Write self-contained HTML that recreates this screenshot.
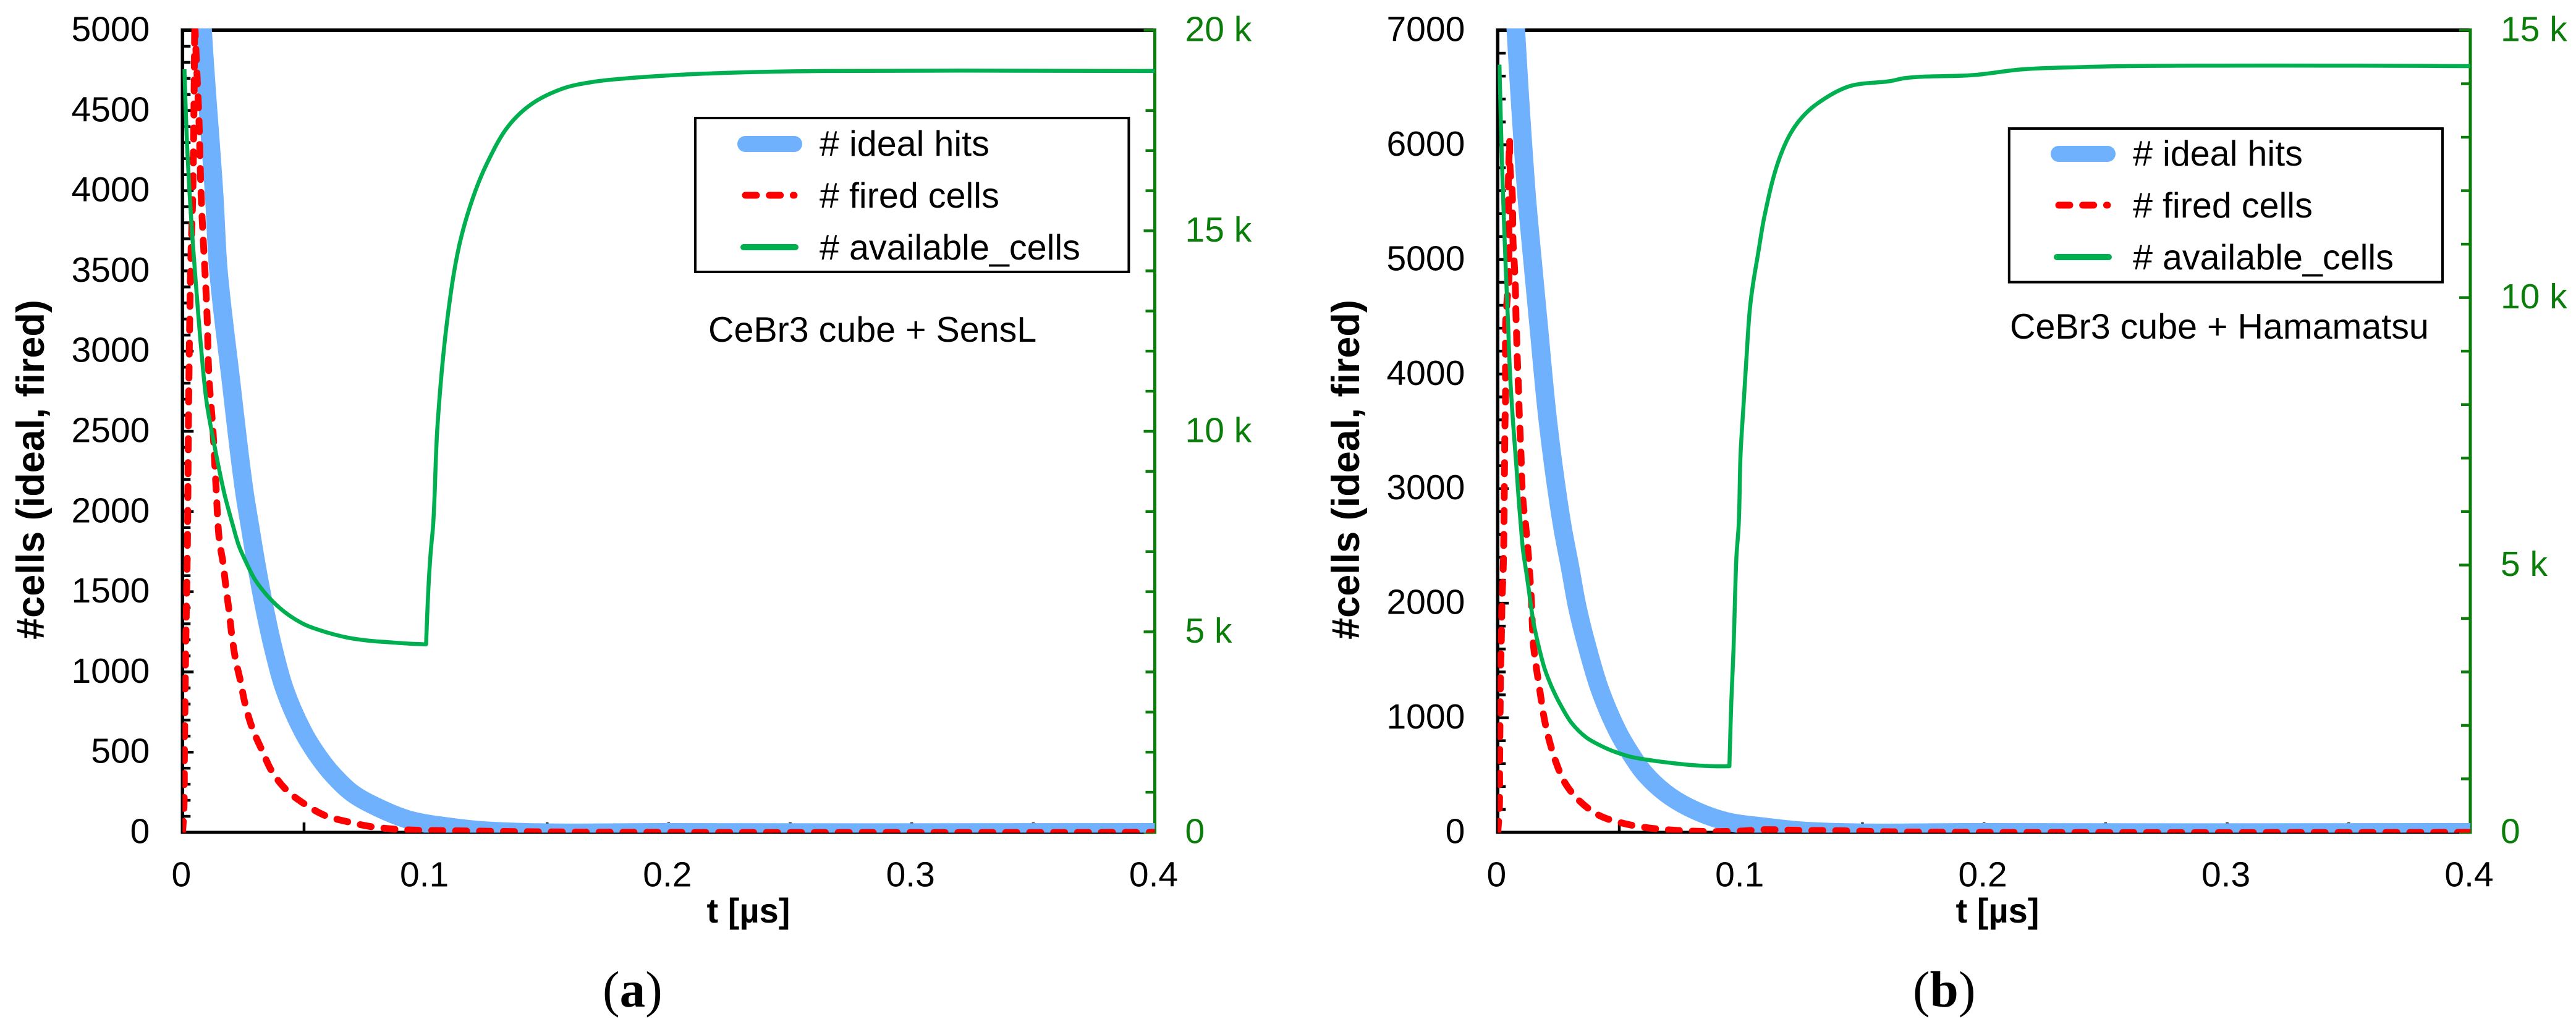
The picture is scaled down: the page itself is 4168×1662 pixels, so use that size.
<!DOCTYPE html>
<html lang="en">
<head>
<meta charset="utf-8">
<title>CeBr3 cube cell occupancy charts</title>
<style>
html,body{margin:0;padding:0;background:#fff;width:4168px;height:1662px;overflow:hidden}
svg{display:block}
text{font-family:"Liberation Sans",sans-serif;fill:#000}
.tick{font-size:57px}
.green{fill:#0a7d0a}
.legend-text{font-size:57.5px}
.note{font-size:57.4px}
.axis-title{font-size:56px;font-weight:bold}
.y-title{font-size:63px;font-weight:bold}
.caption{font-family:"Liberation Serif",serif;font-size:83px}
</style>
</head>
<body>
<svg id="figure" xmlns="http://www.w3.org/2000/svg" width="4168" height="1662" viewBox="0 0 4168 1662">
  <rect x="0" y="0" width="4168" height="1662" fill="#fff"/>
  <defs>
    <clipPath id="clip-a"><rect x="295.3" y="46" width="1573.2" height="1301.5"/></clipPath>
    <clipPath id="clip-b"><rect x="2423.3" y="46" width="1573.7" height="1301.5"/></clipPath>
  </defs>
  <g id="panel-a"></g>
  <g id="panel-b"></g>

  <text class="y-title" text-anchor="middle" transform="translate(71 760) rotate(-90)">#cells (ideal, fired)</text>
  <text class="axis-title" text-anchor="middle" x="1211" y="1493">t [µs]</text>
  <g>
    <rect x="1125" y="191" width="701.4" height="249" fill="#fff" stroke="#000" stroke-width="4"/>
    <line x1="1206" y1="233" x2="1285" y2="233" stroke="#6fb1fc" stroke-width="26" stroke-linecap="round"/>
    <line x1="1206" y1="316" x2="1285" y2="316" stroke="#ff0000" stroke-width="11" stroke-linecap="round" stroke-dasharray="18 20.7"/>
    <line x1="1203" y1="400" x2="1287" y2="400" stroke="#00b050" stroke-width="10" stroke-linecap="round"/>
    <text class="legend-text" x="1326" y="252">#&#160;ideal hits</text>
    <text class="legend-text" x="1326" y="336">#&#160;fired cells</text>
    <text class="legend-text" x="1326" y="420">#&#160;available_cells</text>
  </g>
  <text class="note" x="1146" y="553">CeBr3 cube + SensL</text>
  <text class="caption" x="975" y="1629">(<tspan font-weight="bold">a</tspan>)</text>

  <text class="y-title" text-anchor="middle" transform="translate(2199 760) rotate(-90)">#cells (ideal, fired)</text>
  <text class="axis-title" text-anchor="middle" x="3232" y="1493">t [µs]</text>
  <g>
    <rect x="3250.8" y="208" width="701.2" height="248.6" fill="#fff" stroke="#000" stroke-width="4"/>
    <line x1="3331" y1="249" x2="3410" y2="249" stroke="#6fb1fc" stroke-width="26" stroke-linecap="round"/>
    <line x1="3331" y1="332" x2="3410" y2="332" stroke="#ff0000" stroke-width="11" stroke-linecap="round" stroke-dasharray="18 20.7"/>
    <line x1="3328" y1="416" x2="3412" y2="416" stroke="#00b050" stroke-width="10" stroke-linecap="round"/>
    <text class="legend-text" x="3451" y="268">#&#160;ideal hits</text>
    <text class="legend-text" x="3451" y="352">#&#160;fired cells</text>
    <text class="legend-text" x="3451" y="436">#&#160;available_cells</text>
  </g>
  <text class="note" x="3252" y="548">CeBr3 cube + Hamamatsu</text>
  <text class="caption" x="3095" y="1629">(<tspan font-weight="bold">b</tspan>)</text>
</svg>

<script>
// Shared x axis (t in microseconds)
var timeTicks = [0, 0.1, 0.2, 0.3, 0.4];
var timeTickLabels = ['0', '0.1', '0.2', '0.3', '0.4'];

// Panel (a): CeBr3 cube + SensL
var cellTicksA = [0, 500, 1000, 1500, 2000, 2500, 3000, 3500, 4000, 4500, 5000];
var availableTicksA = [0, 5000, 10000, 15000, 20000];
var availableTickLabelsA = ['0', '5 k', '10 k', '15 k', '20 k'];
var idealTimeA = [0.0075, 0.0083, 0.0131, 0.0147, 0.0198, 0.0256, 0.0277, 0.0305, 0.0337, 0.0374, 0.0421, 0.0495, 0.0546, 0.0610, 0.0698, 0.0804, 0.0932, 0.1102, 0.1271, 0.2000, 0.4000];
var idealCellsA = [5300, 5000, 3956, 3517, 2831, 2107, 1914, 1658, 1401, 1144, 887, 630, 502, 374, 245, 155, 78, 33, 8, 0, 0];
var firedTimeA = [0, 0.0005, 0.0008, 0.0012, 0.0020, 0.0025, 0.0030, 0.0035, 0.0042, 0.0050, 0.0058, 0.0067, 0.0077, 0.0101, 0.0109, 0.0124, 0.0138, 0.01518, 0.0167, 0.0179, 0.0192, 0.0203, 0.0218, 0.0239, 0.0258, 0.0287, 0.0326, 0.0368, 0.0427, 0.0504, 0.0588, 0.0682, 0.0775, 0.0872, 0.0974, 0.1100, 0.1500, 0.2000, 0.4000];
var firedCellsA = [0, 115, 500, 1016, 1787, 2635, 3224, 3617, 3956, 5050, 4780, 4468, 3956, 3224, 2831, 2535, 2150, 1818, 1677, 1523, 1375, 1228, 1080, 939, 797, 650, 515, 380, 265, 175, 104, 65, 36, 20, 13, 10, 3, 0, 0];
var availableTimeA = [0.0008, 0.0020, 0.0036, 0.0055, 0.0076, 0.0100, 0.0133, 0.0173, 0.0207, 0.0232, 0.0262, 0.0296, 0.0347, 0.0398, 0.0448, 0.0508, 0.0593, 0.0677, 0.0762, 0.0847, 0.0932, 0.1002, 0.1012, 0.1021, 0.1031, 0.1049, 0.1090, 0.1138, 0.1194, 0.1252, 0.1341, 0.1438, 0.1568, 0.1683, 0.1792, 0.2059, 0.2326, 0.2649, 0.4000];
var availableCellsA = [19030, 16980, 15255, 13684, 12112, 10695, 9593, 8429, 7659, 7145, 6734, 6323, 5913, 5605, 5373, 5167, 4988, 4859, 4782, 4741, 4705, 4689, 6118, 6991, 7659, 10140, 12820, 14624, 15810, 16674, 17614, 18170, 18554, 18708, 18785, 18893, 18954, 18985, 18985];

// Panel (b): CeBr3 cube + Hamamatsu
var cellTicksB = [0, 1000, 2000, 3000, 4000, 5000, 6000, 7000];
var availableTicksB = [0, 5000, 10000, 15000];
var availableTickLabelsB = ['0', '5 k', '10 k', '15 k'];
var idealTimeB = [0.0068, 0.00747, 0.01195, 0.0126, 0.0166, 0.0207, 0.0265, 0.0297, 0.0328, 0.0370, 0.0421, 0.0493, 0.0542, 0.0601, 0.0690, 0.0787, 0.0931, 0.1101, 0.1270, 0.2000, 0.4000];
var idealCellsB = [7300, 7000, 5539, 5377, 4478, 3579, 2680, 2321, 1961, 1602, 1242, 883, 703, 523, 343, 217, 101, 47, 11, 0, 0];
var firedTimeB = [0, 0.0006, 0.0008, 0.0010, 0.0012, 0.0015, 0.0018, 0.0023, 0.0025, 0.0029, 0.0030, 0.0032, 0.0032, 0.0032, 0.0032, 0.0037, 0.0046, 0.0046, 0.0046, 0.0044, 0.0049, 0.0052, 0.0058, 0.0063, 0.0069, 0.0073, 0.0075, 0.0078, 0.0081, 0.0085, 0.0088, 0.0092, 0.0096, 0.0099, 0.0105, 0.0114, 0.0125, 0.0132, 0.0139, 0.0142, 0.0147, 0.0160, 0.0175, 0.0190, 0.0211, 0.0241, 0.0279, 0.0342, 0.0419, 0.0508, 0.0605, 0.0698, 0.0796, 0.0897, 0.0999, 0.1093, 0.1194, 0.1270, 0.1347, 0.1620, 0.2000, 0.4000];
var firedCellsB = [0, 162, 613, 1062, 1422, 1692, 2049, 2321, 2555, 3398, 3579, 3775, 3991, 4190, 4395, 4604, 4820, 5015, 5197, 5684, 6040, 5750, 5646, 5152, 4936, 4730, 4521, 4316, 4110, 3903, 3696, 3489, 3283, 3076, 2869, 2697, 2447, 2249, 1997, 1835, 1638, 1422, 1215, 1008, 811, 604, 424, 263, 146, 83, 43, 23, 11, 7, 11, 23, 20, 16, 16, 5, 0, 0];
var availableTimeB = [0.0007, 0.0017, 0.0025, 0.0033, 0.0042, 0.0050, 0.0063, 0.0076, 0.0088, 0.0095, 0.0105, 0.0118, 0.0131, 0.0147, 0.0169, 0.0194, 0.0224, 0.0262, 0.0304, 0.0364, 0.0423, 0.0482, 0.0550, 0.0635, 0.0720, 0.0804, 0.0889, 0.0953, 0.0961, 0.0970, 0.0976, 0.0982, 0.0991, 0.0999, 0.1012, 0.1025, 0.1037, 0.1050, 0.1071, 0.1097, 0.1151, 0.1200, 0.1249, 0.1313, 0.1443, 0.1618, 0.1672, 0.1959, 0.2157, 0.2391, 0.2588, 0.4000];
var availableCellsB = [14357, 12619, 11521, 10559, 9595, 8632, 7670, 6899, 6128, 5743, 5243, 4857, 4434, 3933, 3470, 3047, 2700, 2354, 2045, 1776, 1622, 1506, 1410, 1344, 1294, 1256, 1236, 1236, 2470, 3432, 4395, 5165, 5743, 7092, 8055, 9017, 9788, 10250, 10828, 11521, 12504, 13035, 13359, 13625, 13948, 14052, 14104, 14163, 14270, 14310, 14330, 14330];

var SVG_NS = 'http://www.w3.org/2000/svg';

function makeEl(parent, tag, attrs) {
  var el = document.createElementNS(SVG_NS, tag);
  for (var k in attrs) { el.setAttribute(k, attrs[k]); }
  parent.appendChild(el);
  return el;
}

// Smooth path through the data points, keeping sharp corners sharp.
function smoothPath(pts) {
  var tangents = [];
  var i;
  for (i = 0; i < pts.length; i++) {
    if (i === 0 || i === pts.length - 1) { tangents.push(null); continue; }
    var ax = pts[i][0] - pts[i - 1][0], ay = pts[i][1] - pts[i - 1][1];
    var bx = pts[i + 1][0] - pts[i][0], by = pts[i + 1][1] - pts[i][1];
    var la = Math.hypot(ax, ay), lb = Math.hypot(bx, by);
    if (la === 0 || lb === 0 || (ax * bx + ay * by) / (la * lb) < 0.82) { tangents.push(null); continue; }
    var tx = ax / la + bx / lb, ty = ay / la + by / lb, lt = Math.hypot(tx, ty);
    tangents.push([tx / lt, ty / lt]);
  }
  var d = 'M' + pts[0][0].toFixed(1) + ' ' + pts[0][1].toFixed(1);
  for (i = 0; i < pts.length - 1; i++) {
    var p = pts[i], q = pts[i + 1];
    var len = Math.hypot(q[0] - p[0], q[1] - p[1]) / 3;
    var m0 = tangents[i], m1 = tangents[i + 1];
    var c1x = m0 ? p[0] + m0[0] * len : p[0], c1y = m0 ? p[1] + m0[1] * len : p[1];
    var c2x = m1 ? q[0] - m1[0] * len : q[0], c2y = m1 ? q[1] - m1[1] * len : q[1];
    d += 'C' + c1x.toFixed(1) + ' ' + c1y.toFixed(1) + ' ' + c2x.toFixed(1) + ' ' + c2y.toFixed(1) + ' ' + q[0].toFixed(1) + ' ' + q[1].toFixed(1);
  }
  return d;
}

function drawPanel(p) {
  var root = document.getElementById(p.id);
  var xScale = function (t) { return p.left + (t / p.tMax) * (p.right - p.left); };
  var yCells = function (v) { return p.bottom - (v / p.cellMax) * (p.bottom - p.top); };
  var yAvail = function (v) { return p.bottom - (v / p.availMax) * (p.bottom - p.top); };
  var i, v, el;

  // Left axis minor and major ticks
  for (v = 0; v <= p.cellMax + 0.001; v += p.cellMinor) {
    var isMajorLeft = p.cellTicks.indexOf(v) >= 0;
    el = makeEl(root, 'line', { x1: p.left, x2: p.left + (isMajorLeft ? 18 : 13), y1: yCells(v), y2: yCells(v), stroke: '#000', 'stroke-width': 4.5 });
    
    
  }

  // Bottom axis ticks
  for (v = 0; v <= p.tMax + 0.0001; v += 0.05) {
    el = makeEl(root, 'line', { x1: xScale(v), x2: xScale(v), y1: p.bottom, y2: p.bottom - 16, stroke: '#000', 'stroke-width': 4.5 });
    
    
  }

  // Frame lines
  el = makeEl(root, 'line', { x1: p.left, x2: p.left, y1: p.top - 3, y2: p.bottom + 2.5, stroke: '#000', 'stroke-width': 5.5 });
  
  
  el = makeEl(root, 'line', { x1: p.left - 2.5, x2: p.right, y1: p.top, y2: p.top, stroke: '#000', 'stroke-width': 6 });
  
  
  el = makeEl(root, 'line', { x1: p.left - 2.5, x2: p.right, y1: p.bottom, y2: p.bottom, stroke: '#000', 'stroke-width': 5 });
  
  

  // Right axis ticks
  for (v = 0; v <= p.availMax + 0.001; v += 1000) {
    var isMajorRight = p.availTicks.indexOf(v) >= 0;
    el = makeEl(root, 'line', { x1: p.right, x2: p.right - (isMajorRight ? 18 : 15), y1: yAvail(v), y2: yAvail(v), stroke: '#0a7d0a', 'stroke-width': 4.5 });
    
    
  }
  el = makeEl(root, 'line', { x1: p.right, x2: p.right, y1: p.top - 3, y2: p.bottom + 2.5, stroke: '#0a7d0a', 'stroke-width': 5 });
  
  

  // Tick labels
  for (i = 0; i < p.cellTicks.length; i++) {
    el = makeEl(root, 'text', { x: p.left - 53, y: yCells(p.cellTicks[i]) + 17.5, 'text-anchor': 'end', 'class': 'tick' });
    el.textContent = String(p.cellTicks[i]);
    
    
  }
  for (i = 0; i < p.availTicks.length; i++) {
    el = makeEl(root, 'text', { x: p.right + 49, y: yAvail(p.availTicks[i]) + 17.5, 'class': 'tick green' });
    el.textContent = p.availLabels[i];
    
    
  }
  for (i = 0; i < timeTicks.length; i++) {
    el = makeEl(root, 'text', { x: xScale(timeTicks[i]) - 2, y: 1434.5, 'text-anchor': 'middle', 'class': 'tick' });
    el.textContent = timeTickLabels[i];
    
    
  }

  // Series
  var group = makeEl(root, 'g', { 'clip-path': 'url(#' + p.clip + ')' });
  
  

  function pathOf(ts, vs, yFn) {
    var pts = [];
    for (var j = 0; j < ts.length; j++) { pts.push([xScale(ts[j]), yFn(vs[j])]); }
    return smoothPath(pts);
  }

  el = makeEl(group, 'path', { d: pathOf(p.idealT, p.idealV, yCells), fill: 'none', stroke: '#6fb1fc', 'stroke-width': 30, 'stroke-linejoin': 'round' });
  
  

  el = makeEl(group, 'path', { d: pathOf(p.firedT, p.firedV, yCells), fill: 'none', stroke: '#ff0000', 'stroke-width': 11, 'stroke-linejoin': 'round', 'stroke-linecap': 'round', 'stroke-dasharray': '18 20.7' });
  
  

  el = makeEl(group, 'path', { d: pathOf(p.availT, p.availV, yAvail), fill: 'none', stroke: '#00b050', 'stroke-width': 6.5, 'stroke-linejoin': 'round' });
  
  
}

drawPanel({
  id: 'panel-a', clip: 'clip-a', left: 295.3, right: 1868.5, top: 49, bottom: 1347,
  tMax: 0.4, cellMax: 5000, cellMinor: 100, availMax: 20000,
  cellTicks: cellTicksA, availTicks: availableTicksA, availLabels: availableTickLabelsA,
  idealT: idealTimeA, idealV: idealCellsA, firedT: firedTimeA, firedV: firedCellsA,
  availT: availableTimeA, availV: availableCellsA
});

drawPanel({
  id: 'panel-b', clip: 'clip-b', left: 2423.3, right: 3997, top: 49, bottom: 1347,
  tMax: 0.4, cellMax: 7000, cellMinor: 200, availMax: 15000,
  cellTicks: cellTicksB, availTicks: availableTicksB, availLabels: availableTickLabelsB,
  idealT: idealTimeB, idealV: idealCellsB, firedT: firedTimeB, firedV: firedCellsB,
  availT: availableTimeB, availV: availableCellsB
});
</script>
</body>
</html>
